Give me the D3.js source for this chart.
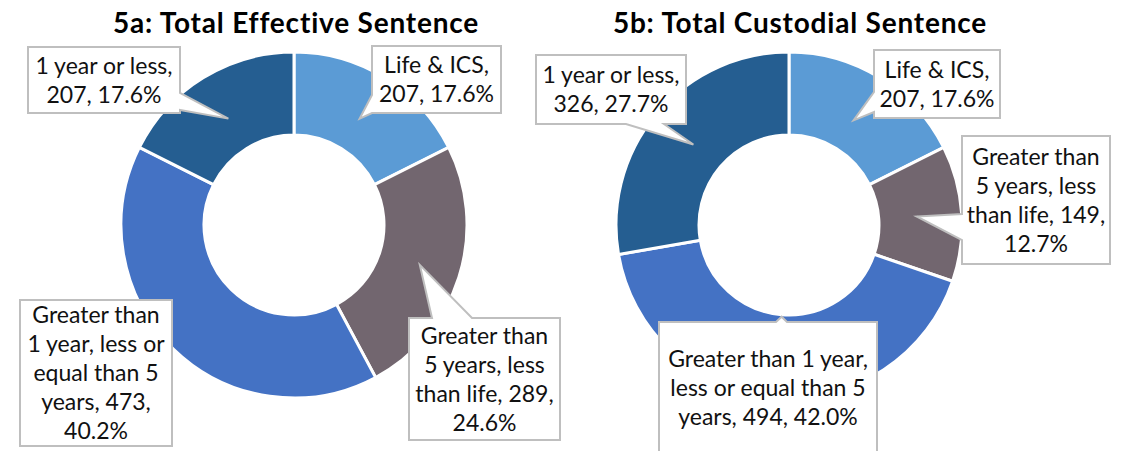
<!DOCTYPE html>
<html>
<head>
<meta charset="utf-8">
<script src="https://cdn.jsdelivr.net/npm/d3@7"></script>
<style>
  html, body { margin: 0; padding: 0; background: #fff; }
  svg { display: block; }
</style>
</head>
<body>
<svg id="chart" width="1127" height="451"></svg>
<script>
// ---------- DATA ----------
const categories = [
  "Life & ICS",
  "Greater than 5 years, less than life",
  "Greater than 1 year, less or equal than 5 years",
  "1 year or less"
];
const effectiveValues = [207, 289, 473, 207];
const custodialValues = [207, 149, 494, 326];
const chartTitles = ["5a: Total Effective Sentence", "5b: Total Custodial Sentence"];
const sliceColors = ["#5B9BD5", "#72666F", "#4472C4", "#255E91"];

// label text lines ({v} = value, {p} = percent)
const effectiveLabelLines = [
  ["Life & ICS,", "{v}, {p}"],
  ["Greater than", "5 years, less", "than life, {v},", "{p}"],
  ["Greater than", "1 year, less or", "equal than 5", "years, {v},", "{p}"],
  ["1 year or less,", "{v}, {p}"]
];
const custodialLabelLines = [
  ["Life & ICS,", "{v}, {p}"],
  ["Greater than", "5 years, less", "than life, {v},", "{p}"],
  ["Greater than 1 year,", "less or equal than 5", "years, {v}, {p}"],
  ["1 year or less,", "{v}, {p}"]
];

// ---------- LAYOUT ----------
const layout = [
  {
    cx: 294, cy: 225, titleX: 296,
    boxes: [
      { box: [372, 46, 501, 113], side: "left", base: [95, 113], tipR: 125 },
      { box: [409, 318, 560, 440], side: "top", base: [432, 472], tipR: 132 },
      { box: [20, 300, 172, 446], side: "none" },
      { box: [28, 47, 180, 113], side: "right", base: [93, 110], tipR: 125 }
    ]
  },
  {
    cx: 789, cy: 225, titleX: 800,
    boxes: [
      { box: [874, 50, 1000, 118], side: "left", base: [92, 112], tipR: 123 },
      { box: [962, 136, 1110, 264], side: "left", base: [214, 240], tipR: 128 },
      { box: [659, 322, 877, 453], side: "top", base: [776, 787], tipR: 92 },
      { box: [536, 55, 686, 124], side: "bottom", base: [626, 664], tipR: 125 }
    ]
  }
];
const outerR = 173, innerR = 90;
const fontFamily = "Lato, 'Open Sans', sans-serif";
const labelSize = 23, lineH = 29;

const svg = d3.select("#chart");
const pct = d3.format(".1%");

function calloutPath(b, side, base, tip) {
  const [x0, y0, x1, y1] = b;
  const p = d3.path();
  p.moveTo(x0, y0);
  if (side === "top") { p.lineTo(base[0], y0); p.lineTo(tip[0], tip[1]); p.lineTo(base[1], y0); }
  p.lineTo(x1, y0);
  if (side === "right") { p.lineTo(x1, base[0]); p.lineTo(tip[0], tip[1]); p.lineTo(x1, base[1]); }
  p.lineTo(x1, y1);
  if (side === "bottom") { p.lineTo(base[1], y1); p.lineTo(tip[0], tip[1]); p.lineTo(base[0], y1); }
  p.lineTo(x0, y1);
  if (side === "left") { p.lineTo(x0, base[1]); p.lineTo(tip[0], tip[1]); p.lineTo(x0, base[0]); }
  p.closePath();
  return p.toString();
}

const datasets = [effectiveValues, custodialValues];
const labelSets = [effectiveLabelLines, custodialLabelLines];

datasets.forEach((values, ci) => {
  const L = layout[ci];
  const total = d3.sum(values);
  const pie = d3.pie().sort(null).value(d => d)(values);
  const arc = d3.arc().innerRadius(innerR).outerRadius(outerR);
  const color = d3.scaleOrdinal().domain(categories).range(sliceColors);

  const g = svg.append("g").attr("transform", `translate(${L.cx},${L.cy})`);
  g.selectAll("path.slice")
    .data(pie)
    .join("path")
    .attr("class", "slice")
    .attr("d", arc)
    .attr("fill", (d, i) => color(categories[i]))
    .attr("stroke", "#fff")
    .attr("stroke-width", 3)
    .attr("stroke-linejoin", "miter");

  // title
  svg.append("text")
    .attr("x", L.titleX)
    .attr("y", 33)
    .attr("text-anchor", "middle")
    .attr("font-family", fontFamily)
    .attr("font-weight", "bold")
    .attr("font-size", 28)
    .attr("letter-spacing", 0.8)
    .attr("fill", "#000")
    .text(chartTitles[ci]);

  // callouts
  const lg = svg.append("g");
  pie.forEach((d, i) => {
    const cfg = L.boxes[i];
    let tip = null;
    if (cfg.side !== "none") {
      const c = d3.arc().innerRadius(cfg.tipR).outerRadius(cfg.tipR).centroid(d);
      tip = [L.cx + c[0], L.cy + c[1]];
    }
    lg.append("path")
      .attr("d", calloutPath(cfg.box, cfg.side, cfg.base, tip))
      .attr("fill", "#fff")
      .attr("stroke", "#BFBFBF")
      .attr("stroke-width", 2);
    const lines = labelSets[ci][i].map(s =>
      s.replace("{v}", values[i]).replace("{p}", pct(values[i] / total)));
    const [x0, y0, x1, y1] = cfg.box;
    const midX = (x0 + x1) / 2, midY = (y0 + y1) / 2;
    const startY = midY - (lines.length - 1) * lineH / 2;
    const t = lg.append("text")
      .attr("font-family", fontFamily)
      .attr("font-size", labelSize)
      .attr("fill", "#111")
      .attr("text-anchor", "middle");
    lines.forEach((s, k) => {
      t.append("tspan")
        .attr("x", midX)
        .attr("y", startY + k * lineH)
        .attr("dy", "0.35em")
        .text(s);
    });
  });
});
</script>
</body>
</html>
